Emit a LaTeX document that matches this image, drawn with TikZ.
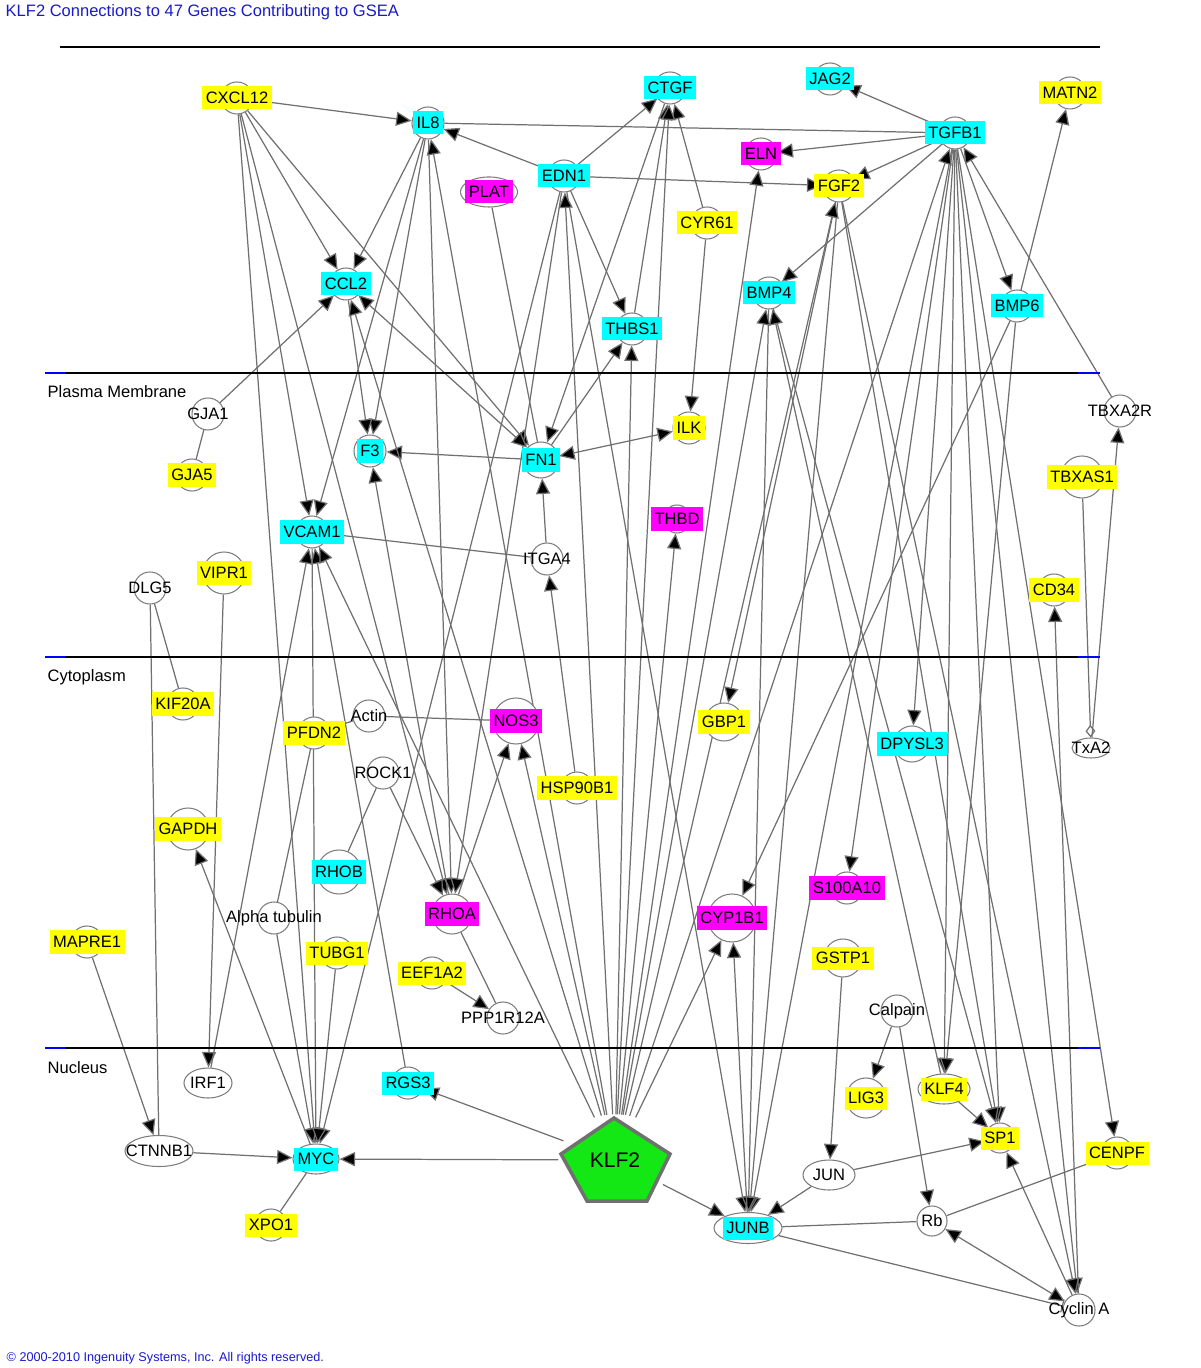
\documentclass[tikz,border=0pt]{standalone}
\usepackage{fontspec}
\setmainfont{Liberation Sans}
\usetikzlibrary{arrows.meta,shapes.geometric,backgrounds}
\definecolor{cy}{RGB}{0,255,255}
\definecolor{ye}{RGB}{255,255,0}
\definecolor{mg}{RGB}{255,0,255}
\definecolor{gr}{RGB}{20,232,20}
\definecolor{edgec}{RGB}{112,112,112}
\definecolor{ringc}{RGB}{125,125,125}
\definecolor{ttl}{RGB}{25,25,205}
\newcommand\gfont{\fontsize{4.7}{5.6}\selectfont}
\newcommand\kfont{\fontsize{6}{7}\selectfont}
\newcommand\cfont{\fontsize{3.6}{4.3}\selectfont}
\tikzset{
  ring/.style={circle, draw=ringc, line width=0.3pt, fill=white, minimum size=0.32cm, inner sep=0pt},
  box/.style={inner xsep=1pt, inner ysep=0pt, minimum height=0.23cm, text height=3.4pt, text depth=0.2pt},
  gene/.style 2 args={ring, label={[box, fill=#1]center:#2}},
  plain/.style={ring, label={center:#1}},
  lk/.style={draw=edgec, line width=0.35pt},
  arr/.style={-{Triangle[length=4.4pt,width=4pt]}},
  both/.style={{Triangle[length=4.4pt,width=4pt]}-{Triangle[length=4.4pt,width=4pt]}},
  inh/.style={-{Bar[width=3.8pt]}},
  cat/.style={-{Diamond[open,length=3.6pt,width=2.8pt]}},
  sep/.style={line width=0.8pt},
  sepb/.style={line width=0.8pt, draw=blue},
  txt/.style={anchor=west, inner sep=0pt}
}
\begin{document}
\begin{tikzpicture}[x=0.01cm, y=-0.01cm, font=\gfont]
\useasboundingbox (0,0) rectangle (1200,1368);
\node[txt, text=ttl] (title) at (5,12) {KLF2 Connections to 47 Genes Contributing to GSEA};
\node[txt, text=ttl, font=\cfont] (copy) at (6,1358) {© 2000-2010 Ingenuity Systems, Inc. All rights reserved.};

% compartments
\draw[sep] (60,47) -- (1100,47);
\foreach \yy in {373,657,1048}{
  \draw[sep] (45,\yy) -- (1100,\yy);
  \draw[sepb] (45,\yy) -- (65,\yy) (1078,\yy) -- (1100,\yy);
}
\node[txt] (pm) at (47,392) {Plasma Membrane};
\node[txt] (cyto) at (47,677) {Cytoplasm};
\node[txt] (nuc) at (47,1068) {Nucleus};

% extracellular space
\node[gene={ye}{CXCL12}] (CXCL12) at (237,98) {};
\node[gene={cy}{IL8}] (IL8) at (428,123) {};
\node[gene={cy}{CTGF}] (CTGF) at (670,88) {};
\node[gene={cy}{JAG2}] (JAG2) at (830,79) {};
\node[gene={ye}{MATN2}] (MATN2) at (1070,93) {};
\node[gene={cy}{TGFB1}] (TGFB1) at (955,133) {};
\node[gene={mg}{ELN}] (ELN) at (761,154) {};
\node[gene={cy}{EDN1}] (EDN1) at (564,176) {};
\node[gene={mg}{PLAT}, ellipse, minimum width=0.57cm, minimum height=0.3cm] (PLAT) at (489,192) {};
\node[gene={ye}{FGF2}] (FGF2) at (839,186) {};
\node[gene={ye}{CYR61}] (CYR61) at (707,223) {};
\node[gene={cy}{CCL2}] (CCL2) at (346,284) {};
\node[gene={cy}{BMP4}] (BMP4) at (769,293) {};
\node[gene={cy}{BMP6}] (BMP6) at (1017,306) {};
\node[gene={cy}{THBS1}] (THBS1) at (632,329) {};

% plasma membrane
\node[plain={GJA1}] (GJA1) at (208,414) {};
\node[plain={TBXA2R}] (TBXA2R) at (1120,411) {};
\node[gene={cy}{F3}] (F3) at (370,451) {};
\node[gene={cy}{FN1}, minimum size=0.36cm] (FN1) at (541,460) {};
\node[gene={ye}{ILK}] (ILK) at (689,428) {};
\node[gene={ye}{GJA5}] (GJA5) at (192,475) {};
\node[gene={ye}{TBXAS1}, minimum size=0.42cm] (TBXAS1) at (1082,477) {};
\node[gene={mg}{THBD}, minimum size=0.28cm] (THBD) at (677,519) {};
\node[gene={cy}{VCAM1}] (VCAM1) at (312,532) {};
\node[plain={ITGA4}] (ITGA4) at (547,559) {};
\node[gene={ye}{VIPR1}, minimum size=0.42cm] (VIPR1) at (224,573) {};
\node[plain={DLG5}] (DLG5) at (150,588) {};
\node[gene={ye}{CD34}] (CD34) at (1054,590) {};

% cytoplasm
\node[gene={ye}{KIF20A}] (KIF20A) at (183,704) {};
\node[gene={ye}{PFDN2}] (PFDN2) at (314,733) {};
\node[plain={Actin}] (Actin) at (369,716) {};
\node[plain={ROCK1}] (ROCK1) at (383,773) {};
\node[gene={ye}{GAPDH}, minimum size=0.42cm] (GAPDH) at (188,829) {};
\node[gene={cy}{RHOB}, minimum size=0.44cm] (RHOB) at (339,872) {};
\node[plain={Alpha tubulin}] (ATUB) at (274,918) {};
\node[gene={ye}{MAPRE1}] (MAPRE1) at (87,942) {};
\node[gene={ye}{TUBG1}] (TUBG1) at (337,953) {};
\node[gene={mg}{NOS3}, minimum size=0.46cm] (NOS3) at (516,721) {};
\node[gene={ye}{HSP90B1}] (HSP90B1) at (577,788) {};
\node[gene={mg}{RHOA}, minimum size=0.4cm] (RHOA) at (452,914) {};
\node[gene={ye}{EEF1A2}] (EEF1A2) at (432,973) {};
\node[plain={PPP1R12A}] (PPP1R12A) at (503,1018) {};
\node[gene={mg}{CYP1B1}, minimum size=0.48cm] (CYP1B1) at (732,918) {};
\node[gene={ye}{GBP1}, minimum size=0.38cm] (GBP1) at (724,722) {};
\node[gene={cy}{DPYSL3}, minimum size=0.36cm] (DPYSL3) at (912,744) {};
\node[plain={TxA2}, ellipse, minimum width=0.38cm, minimum height=0.2cm] (TxA2) at (1091,748) {};
\node[gene={mg}{S100A10}] (S100A10) at (847,888) {};
\node[gene={ye}{GSTP1}, minimum size=0.38cm] (GSTP1) at (843,958) {};
\node[plain={Calpain}] (Calpain) at (897,1011) {};

% nucleus
\node[plain={IRF1}, ellipse, minimum width=0.48cm, minimum height=0.3cm] (IRF1) at (208,1083) {};
\node[gene={cy}{RGS3}] (RGS3) at (408,1083) {};
\node[plain={CTNNB1}, ellipse, minimum width=0.68cm, minimum height=0.31cm] (CTNNB1) at (159,1151) {};
\node[gene={cy}{MYC}, ellipse, minimum width=0.46cm, minimum height=0.3cm] (MYC) at (316,1159) {};
\node[gene={ye}{XPO1}] (XPO1) at (271,1225) {};
\draw[draw=edgec, line width=1pt, fill=gr] (614,1118) -- (670,1154) -- (647,1201) -- (587,1201) -- (561,1154) -- cycle;
\node[ellipse, minimum width=1.12cm, minimum height=0.9cm, inner sep=0pt, font=\kfont] (KLF2) at (615,1160) {KLF2};
\node[gene={cy}{JUNB}, ellipse, minimum width=0.68cm, minimum height=0.31cm] (JUNB) at (748,1228) {};
\node[gene={ye}{LIG3}, minimum size=0.4cm] (LIG3) at (866,1098) {};
\node[gene={ye}{KLF4}, ellipse, minimum width=0.52cm, minimum height=0.3cm] (KLF4) at (944,1089) {};
\node[gene={ye}{SP1}, minimum size=0.3cm] (SP1) at (1000,1138) {};
\node[gene={ye}{CENPF}] (CENPF) at (1117,1153) {};
\node[plain={JUN}, ellipse, minimum width=0.52cm, minimum height=0.3cm] (JUN) at (829,1175) {};
\node[plain={Rb}, minimum size=0.3cm] (Rb) at (932,1221) {};
\node[plain={Cyclin A}] (CYCA) at (1079,1310) {};

\begin{pgfonlayer}{background}
% bindings
\path[lk] (IL8) edge (TGFB1) (PLAT) edge (FN1) (VCAM1) edge (ITGA4)
  (GJA1) edge (GJA5) (DLG5) edge (KIF20A) (DLG5) edge (CTNNB1)
  (Actin) edge (NOS3) (Actin) edge (PFDN2) (PFDN2) edge (ATUB)
  (ROCK1) edge (RHOB) (RHOA) edge (PPP1R12A) (MYC) edge (XPO1)
  (JUNB) edge (Rb) (CENPF) edge (Rb);
% top
\path[lk] (CXCL12) edge[arr] (IL8) (CXCL12) edge[arr] (CCL2) (CXCL12) edge[arr] (FN1)
  (CXCL12) edge[arr] (VCAM1) (CXCL12) edge[arr] (RHOA) (CXCL12) edge[arr] (MYC)
  (IL8) edge[arr] (CCL2) (IL8) edge[arr] (F3) (IL8) edge[arr] (VCAM1) (IL8) edge[arr] (RHOA)
  (EDN1) edge[arr] (IL8) (EDN1) edge[arr] (CTGF) (EDN1) edge[arr] (FGF2) (EDN1) edge[arr] (THBS1)
  (EDN1) edge[arr] (MYC) (EDN1) edge[arr] (RHOA) (EDN1) edge[arr] (JUNB)
  (CYR61) edge[arr] (CTGF) (CYR61) edge[arr] (ILK) (THBS1) edge[arr] (CTGF) (CTGF) edge[arr] (FN1);
% TGFB1 and friends
\path[lk] (TGFB1) edge[arr] (JAG2) (TGFB1) edge[arr] (ELN) (TGFB1) edge[arr] (FGF2)
  (TGFB1) edge[arr] (BMP4) (TGFB1) edge[arr] (BMP6) (TGFB1) edge[arr] (DPYSL3)
  (TGFB1) edge[arr] (S100A10) (TGFB1) edge[arr] (KLF4) (TGFB1) edge[arr] (SP1)
  (TGFB1) edge[arr] (CYCA) (TGFB1) edge[arr] (CENPF) (TGFB1) edge[arr] (JUNB)
  (BMP6) edge[arr] (MATN2) (BMP6) edge[arr] (CYP1B1) (BMP6) edge[arr] (KLF4)
  (TBXA2R) edge[arr] (TGFB1) (TxA2) edge[arr] (TBXA2R) (TBXAS1) edge[cat] (TxA2)
  (FGF2) edge[arr] (GBP1) (FGF2) edge[arr] (JUNB) (FGF2) edge[arr] (SP1) (FGF2) edge[arr] (CYCA)
  (BMP4) edge[arr] (JUNB) (BMP4) edge[arr] (SP1) (KLF4) edge[arr] (BMP4);
% membrane and cytoplasm
\path[lk] (GJA1) edge[arr] (CCL2) (CCL2) edge[arr] (F3) (FN1) edge[arr] (F3) (FN1) edge[arr] (THBS1)
  (FN1) edge[both] (ILK) (FN1) edge[both] (CCL2) (ITGA4) edge[arr] (FN1) (HSP90B1) edge[arr] (ITGA4)
  (RHOA) edge[arr] (F3) (ROCK1) edge[arr] (RHOA) (RHOA) edge[arr] (NOS3) (EEF1A2) edge[arr] (PPP1R12A)
  (VIPR1) edge[arr] (IRF1) (IRF1) edge[arr] (VCAM1) (RGS3) edge[arr] (VCAM1) (VCAM1) edge[arr] (MYC)
  (ATUB) edge[arr] (MYC) (TUBG1) edge[arr] (MYC) (CTNNB1) edge[arr] (MYC) (MYC) edge[arr] (GAPDH)
  (MAPRE1) edge[arr] (CTNNB1);
% nucleus
\path[lk] (GSTP1) edge[arr] (JUN) (Calpain) edge[arr] (LIG3) (Calpain) edge[arr] (Rb)
  (KLF4) edge[arr] (SP1) (JUN) edge[arr] (SP1) (JUN) edge[arr] (JUNB) (CYCA) edge[arr] (SP1)
  (CYCA) edge[arr] (CD34) (Rb) edge[both] (CYCA) (JUNB) edge[inh] (CYCA) (JUNB) edge[arr] (CYP1B1);
% KLF2
\foreach \g in {VCAM1,CCL2,NOS3,IL8,EDN1,THBS1,CTGF,ELN,THBD,BMP4,FGF2,TGFB1,CYP1B1,MYC,RGS3,JUNB}
  \path[lk] (KLF2) edge[arr] (\g);
\end{pgfonlayer}
\end{tikzpicture}
\end{document}
